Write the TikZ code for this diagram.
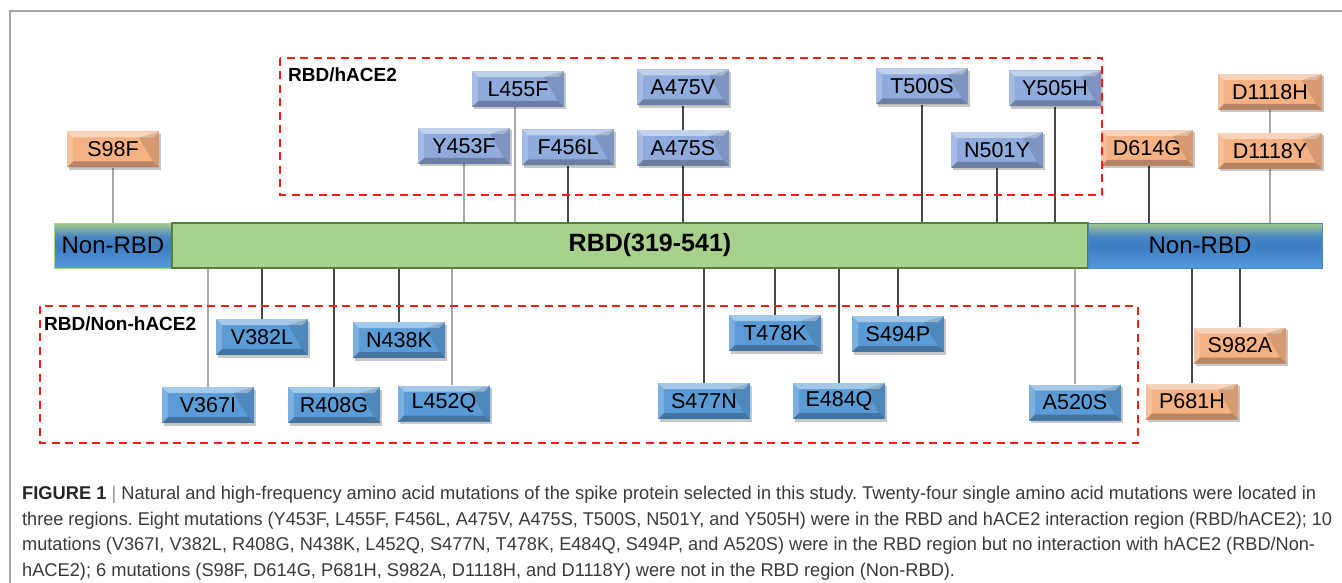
\documentclass[tikz,border=0pt]{standalone}
\usepackage{fontspec}
\setmainfont{Liberation Sans}
\newfontfamily\capfont{Liberation Sans}
\usetikzlibrary{calc}
\frenchspacing
\definecolor{hace}{HTML}{8FAADC}
\definecolor{nonh}{HTML}{5B9BD5}
\definecolor{orng}{HTML}{F4B183}
\definecolor{rbdg}{HTML}{A9D18E}
\definecolor{rbdb}{HTML}{548235}
\definecolor{conn}{HTML}{474747}
\definecolor{connl}{HTML}{A8A8A8}
\definecolor{capc}{HTML}{3A3A3A}
\definecolor{nrbA}{HTML}{5599DA}
\definecolor{nrbB}{HTML}{3C7DC2}
\definecolor{nrbC}{HTML}{4A86C4}
\definecolor{nrbD}{HTML}{A3CB8F}
\definecolor{redd}{HTML}{FF1A1A}
\pgfdeclareverticalshading{nonrbdsh}{100bp}{color(0bp)=(nrbA); color(25bp)=(nrbA); color(50bp)=(nrbB); color(60bp)=(nrbC); color(75bp)=(nrbD); color(100bp)=(nrbD)}
\pgfdeclarelayer{bg}
\pgfsetlayers{bg,main}
\newlength\capw
\newcommand\fitline[2]{\settowidth{\capw}{#2}\pgfmathsetmacro\fsx{#1/\the\capw}\scalebox{\fsx}[1]{#2}}
\tikzset{
  mut/.style={minimum width=92pt, minimum height=36pt, inner sep=0pt, fill=#1,
    font=\fontsize{21.5}{21.5}\selectfont,
    preaction={fill=black, opacity=0.22, transform canvas={shift={(1.5pt,-2.5pt)}}},
    path picture={
      \fill[white,opacity=0.45] (path picture bounding box.north west) -- (path picture bounding box.north east) -- ([shift={(-6pt,-6pt)}]path picture bounding box.north east) -- ([shift={(6pt,-6pt)}]path picture bounding box.north west) -- cycle;
      \fill[white,opacity=0.2] (path picture bounding box.north west) -- ([shift={(6pt,-6pt)}]path picture bounding box.north west) -- ([shift={(6pt,6pt)}]path picture bounding box.south west) -- (path picture bounding box.south west) -- cycle;
      \fill[black,opacity=0.12] (path picture bounding box.north east) -- (path picture bounding box.south east) -- ([shift={(-6pt,6pt)}]path picture bounding box.south east) -- ([shift={(-20pt,-6pt)}]path picture bounding box.north east) -- cycle;
      \fill[black,opacity=0.25] (path picture bounding box.south west) -- (path picture bounding box.south east) -- ([shift={(-6pt,6pt)}]path picture bounding box.south east) -- ([shift={(6pt,6pt)}]path picture bounding box.south west) -- cycle;
    }},
  conn/.style={draw=conn, line width=1.3pt},
  connl/.style={draw=connl, line width=1.3pt},
  reddash/.style={draw=redd, line width=2.4pt, dash pattern=on 8pt off 5.5pt},
  barnon/.style={shading=nonrbdsh, inner sep=0pt, minimum height=45pt, font=\fontsize{24}{24}\selectfont},
  regionlab/.style={anchor=base west, inner sep=0pt, font=\bfseries\fontsize{19}{19}\selectfont},
  capline/.style={anchor=base west, inner sep=0pt, text=capc, font=\capfont\fontsize{18.5}{18.5}\selectfont},
}
\begin{document}
\begin{tikzpicture}[x=1pt,y=-1pt]
\useasboundingbox (0,0) rectangle (1342,583);
% frame
\draw[draw=black!35, line width=1.3pt] (10,583) -- (10,11) -- (1342,11);

% bar
\node[barnon, draw=rbdg, line width=1pt, minimum width=118pt] (nonL) at (113,245.5) {Non-RBD};
\node[fill=rbdg, draw=rbdb, line width=2.5pt, minimum width=916pt, minimum height=45pt, inner sep=0pt] (rbd) at (630,245.5) {};
\node[barnon, draw=nrbC, line width=1pt, minimum width=234pt] (nonR) at (1205,245.5) {};
\node[font=\bfseries\fontsize{25}{25}\selectfont, inner sep=0pt] (rbdlab) at (650,245.5) {RBD(319-541)};
\node[font=\fontsize{24}{24}\selectfont, inner sep=0pt] (nonRlab) at (1200,245.5) {Non-RBD};

% top mutations
\node[mut=orng] (S98F) at (113,149.5) {S98F};
\node[mut=hace] (Y453F) at (464,146) {Y453F};
\node[mut=hace] (L455F) at (518,89) {L455F};
\node[mut=hace] (F456L) at (568,147.5) {F456L};
\node[mut=hace] (A475V) at (683,87.5) {A475V};
\node[mut=hace] (A475S) at (683,148) {A475S};
\node[mut=hace] (T500S) at (922,86.5) {T500S};
\node[mut=hace] (Y505H) at (1055,88.5) {Y505H};
\node[mut=hace] (N501Y) at (997,150) {N501Y};
\node[mut=orng] (D614G) at (1147,148) {D614G};
\node[mut=orng, minimum width=104pt] (D1118H) at (1270,92) {D1118H};
\node[mut=orng, minimum width=104pt] (D1118Y) at (1270,151) {D1118Y};

% bottom mutations
\node[mut=nonh] (V382L) at (262,337) {V382L};
\node[mut=nonh] (N438K) at (399,340) {N438K};
\node[mut=nonh] (V367I) at (208,405) {V367I};
\node[mut=nonh] (R408G) at (334,405) {R408G};
\node[mut=nonh] (L452Q) at (444,403.5) {L452Q};
\node[mut=nonh] (S477N) at (704,401) {S477N};
\node[mut=nonh] (T478K) at (775,333) {T478K};
\node[mut=nonh] (E484Q) at (839,401) {E484Q};
\node[mut=nonh] (S494P) at (898,334) {S494P};
\node[mut=nonh] (A520S) at (1075,402.5) {A520S};
\node[mut=orng] (S982A) at (1240,345.5) {S982A};
\node[mut=orng] (P681H) at (1192,401.5) {P681H};

% connectors
\begin{pgfonlayer}{bg}
\draw[connl] (S98F.south) -- (S98F.south |- nonL.north);
\draw[connl] (Y453F.south) -- (Y453F.south |- rbd.north);
\draw[connl] ([xshift=-3pt]L455F.south) -- ([xshift=-3pt]L455F.south |- rbd.north);
\draw[conn] (F456L.south) -- (F456L.south |- rbd.north);
\draw[conn] (A475V.south) -- (A475S.north);
\draw[conn] (A475S.south) -- (A475S.south |- rbd.north);
\draw[conn] (T500S.south) -- (T500S.south |- rbd.north);
\draw[conn] (Y505H.south) -- (Y505H.south |- rbd.north);
\draw[conn] (N501Y.south) -- (N501Y.south |- rbd.north);
\draw[conn] ([xshift=2pt]D614G.south) -- ([xshift=2pt]D614G.south |- nonR.north);
\draw[connl] (D1118H.south) -- (D1118Y.north);
\draw[connl] (D1118Y.south) -- (D1118Y.south |- nonR.north);

\draw[connl] (V367I.north) -- (V367I.north |- rbd.south);
\draw[conn] (V382L.north) -- (V382L.north |- rbd.south);
\draw[conn] (R408G.north) -- (R408G.north |- rbd.south);
\draw[conn] (N438K.north) -- (N438K.north |- rbd.south);
\draw[connl] ([xshift=8pt]L452Q.north) -- ([xshift=8pt]L452Q.north |- rbd.south);
\draw[conn] (S477N.north) -- (S477N.north |- rbd.south);
\draw[conn] (T478K.north) -- (T478K.north |- rbd.south);
\draw[conn] (E484Q.north) -- (E484Q.north |- rbd.south);
\draw[conn] (S494P.north) -- (S494P.north |- rbd.south);
\draw[connl] (A520S.north) -- (A520S.north |- rbd.south);
\draw[conn] (P681H.north) -- (P681H.north |- nonR.south);
\draw[conn] (S982A.north) -- (S982A.north |- nonR.south);
\end{pgfonlayer}

% regions
\draw[reddash] (280,58) rectangle (1102,195);
\draw[reddash] (40,306) rectangle (1138,443);
\node[regionlab] (labA) at (288,82) {RBD/hACE2};
\node[regionlab] (labB) at (44,330) {RBD/Non-hACE2};

% caption
\node[capline] (cap1) at (22,499) {\fitline{1294}{\textbf{\color{black!85}FIGURE 1} {\color{black!45}|} Natural and high-frequency amino acid mutations of the spike protein selected in this study. Twenty-four single amino acid mutations were located in}};
\node[capline] (cap2) at (22,525) {\fitline{1310}{three regions. Eight mutations (Y453F, L455F, F456L, A475V, A475S, T500S, N501Y, and Y505H) were in the RBD and hACE2 interaction region (RBD/hACE2); 10}};
\node[capline] (cap3) at (22,550.5) {\fitline{1293}{mutations (V367I, V382L, R408G, N438K, L452Q, S477N, T478K, E484Q, S494P, and A520S) were in the RBD region but no interaction with hACE2 (RBD/Non-}};
\node[capline] (cap4) at (22,576) {\fitline{933}{hACE2); 6 mutations (S98F, D614G, P681H, S982A, D1118H, and D1118Y) were not in the RBD region (Non-RBD).}};
\end{tikzpicture}
\end{document}
